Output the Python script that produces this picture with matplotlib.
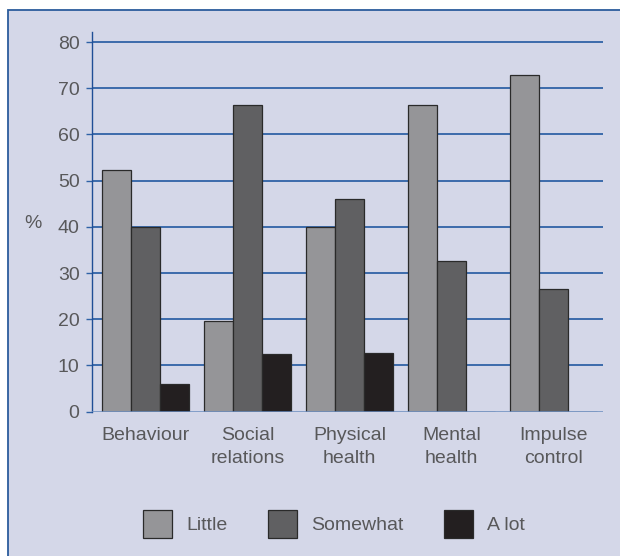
import matplotlib.pyplot as plt
from matplotlib.patches import Rectangle
import numpy as np

plt.rcParams['font.family'] = ['Liberation Sans', 'DejaVu Sans']

# data (%)
categories = ['Behaviour', 'Social\nrelations', 'Physical\nhealth', 'Mental\nhealth', 'Impulse\ncontrol']
little = [52.4, 19.7, 40.0, 66.4, 72.9]
somewhat = [40.0, 66.3, 46.0, 32.7, 26.6]
a_lot = [5.9, 12.4, 12.8, 0, 0]
series_names = ['Little', 'Somewhat', 'A lot']

colors = ['#959598', '#606062', '#231f20']
text_col = '#58585a'
grid_col = '#2f62a6'
panel_col = '#d4d7e8'

fig = plt.figure(figsize=(6.2, 5.56), dpi=100)

# light panel with blue border on the left and top
fig.patches.append(Rectangle((8 / 620, -0.01), 1.0, 1 - 9.5 / 556 + 0.01, transform=fig.transFigure,
                             facecolor=panel_col, edgecolor='#2b5c9c', linewidth=1.3, zorder=-5))

ax = fig.add_axes([92 / 620, 1 - 411.7 / 556, 511 / 620, (411.7 - 32.3) / 556])
ax.set_facecolor('none')

x = np.arange(len(categories))
w = 0.284
for k, vals in enumerate([little, somewhat, a_lot]):
    ax.bar(x + (k - 1) * w, vals, width=w, color=colors[k], edgecolor='#2a2a2a',
           linewidth=0.9, label=series_names[k], zorder=3)

ax.set_xlim(-0.52, 4.48)
ax.set_ylim(0, 82.1)
ax.set_yticks(range(0, 81, 10))
for v in range(10, 81, 10):
    ax.axhline(v, color=grid_col, linewidth=1.3, zorder=1)
ax.axhline(0, color='#6a8dc0', linewidth=1.8, zorder=4)

for s in ['top', 'right', 'bottom']:
    ax.spines[s].set_visible(False)
ax.spines['left'].set_color('#1f4e96')
ax.spines['left'].set_linewidth(1.0)

ax.tick_params(axis='y', direction='out', length=4, width=1.0, color=grid_col,
               labelsize=14, labelcolor=text_col, pad=5)
ax.set_xticks(x)
ax.set_xticklabels(categories, fontsize=14, color=text_col, linespacing=1.5)
ax.tick_params(axis='x', length=0, pad=11)

fig.text(33 / 620, 1 - 223 / 556, '%', fontsize=14, color=text_col, ha='center', va='center')

leg = ax.legend(ncol=3, loc='center', bbox_to_anchor=(334 / 620, 1 - 524 / 556),
                bbox_transform=fig.transFigure, frameon=False, fontsize=14,
                handlelength=1.5, handleheight=1.85, handletextpad=0.7, columnspacing=2.1)
for t in leg.get_texts():
    t.set_color(text_col)

fig.savefig('out.png', dpi=100)
